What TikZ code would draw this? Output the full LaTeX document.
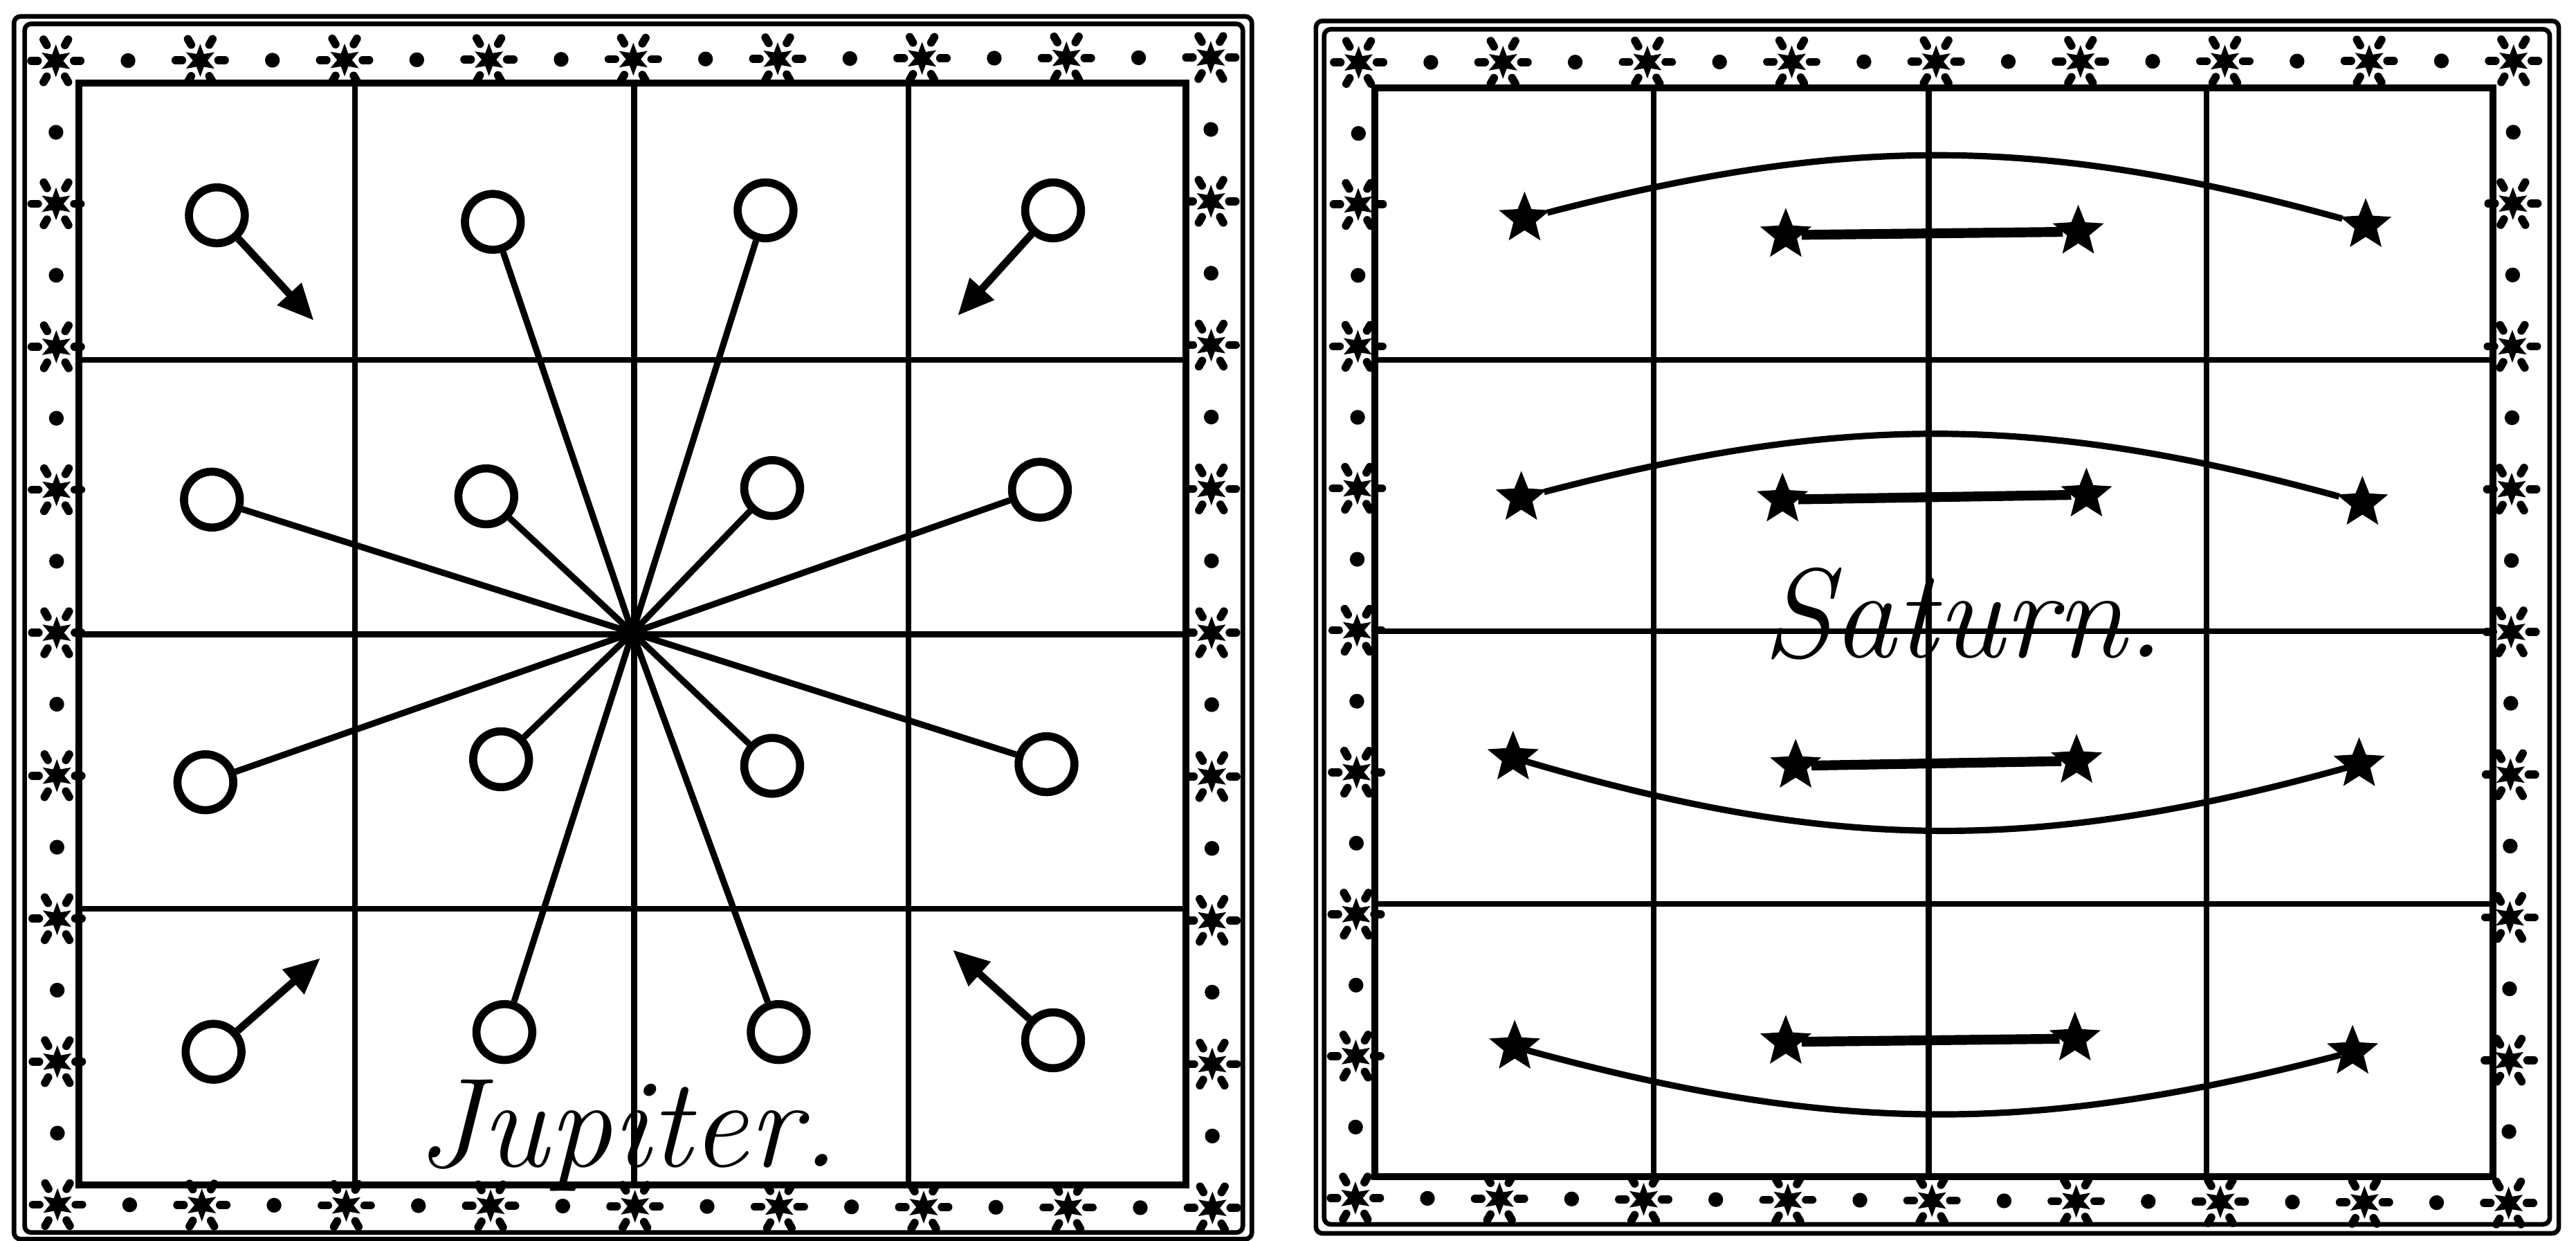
\documentclass[tikz,border=0pt]{standalone}
\usepackage{tikz}
\usetikzlibrary{arrows.meta, shapes.geometric, calc}
\tikzset{
  frameline/.style={line width=0.8pt, rounded corners=0.4mm},
  boardedge/.style={line width=1.2pt},
  gridline/.style={line width=1.0pt},
  planet/.style={circle, draw, line width=1.4pt, minimum size=3.4mm, inner sep=0pt},
  spoke/.style={line width=1.1pt},
  mover/.style={line width=1.3pt, -{Triangle[length=2.2mm, width=1.9mm]}},
  sstar/.style={star, star points=5, star point ratio=2.3, fill, draw,
                minimum size=2.9mm, inner sep=0pt},
  orbit/.style={line width=1.1pt},
  barline/.style={line width=1.7pt},
  handtext/.style={font=\fontsize{22}{26}\selectfont\itshape, inner sep=0pt, anchor=base},
  bstar/.pic={
    \fill (90:10) \foreach \k in {1,...,11}
      { -- ({90+30*\k}:{ifthenelse(mod(\k,2)==0,10,4.5)}) } -- cycle;
    \foreach \a in {0,60,...,300}
      \draw[line width=1.4pt, line cap=round] (\a:11) -- (\a:15);
  },
  bdot/.pic={ \fill (0,0) circle (4.5); }
}

\begin{document}
\begin{tikzpicture}[x=0.1mm, y=-0.1mm]
  \useasboundingbox (0,0) rectangle (1568,755);

  % ── Jupiter board ────────────────────────────────────────────────
  \draw[frameline] (8.5,10) rectangle (762,754);
  \draw[frameline] (15,14.5) rectangle (756.5,750);
  \draw[boardedge] (48,50.5) rectangle (722,721);
  \foreach \x in {216,386,553} \draw[gridline] (\x,50.5) -- (\x,721);
  \foreach \y in {219,386,553} \draw[gridline] (48,\y) -- (722,\y);

  % border of stars and dots
  \coordinate (JTL) at (34,37);
  \coordinate (JTR) at (737,35);
  \coordinate (JBR) at (738,735);
  \coordinate (JBL) at (35,733);
  \foreach \a/\b in {JTL/JTR, JTR/JBR, JBR/JBL, JBL/JTL} {
    \foreach \i [evaluate=\i as \f using \i/16] in {0,2,...,14}
      \pic at ($(\a)!\f!(\b)$) {bstar};
    \foreach \i [evaluate=\i as \f using \i/16] in {1,3,...,15}
      \pic at ($(\a)!\f!(\b)$) {bdot};
  }

  \coordinate (hub) at (385,385);
  \foreach \n/\x/\y in {c11/132/131, c12/300/135, c13/466/128, c14/641/128,
                        c21/129/304, c22/296/302, c23/470/297, c24/633/298,
                        c31/125/476, c32/305/462, c33/470/466, c34/637/465,
                        c41/130/640, c42/307/628, c43/474/628, c44/641/633}
    \node[planet] (\n) at (\x,\y) {};

  \foreach \n in {c12,c13,c21,c22,c23,c24,c31,c32,c33,c34,c42,c43}
    \draw[spoke] (hub) -- (\n);

  % corner moves
  \coordinate (t11) at (191,195);
  \coordinate (t14) at (583,192);
  \coordinate (t41) at (195,583);
  \coordinate (t44) at (580,578);
  \foreach \n in {11,14,41,44} \draw[mover] (c\n) -- (t\n);

  \node[handtext] (jup) at (382,710) {Jupiter.};

  % ── Saturn board ─────────────────────────────────────────────────
  \draw[frameline] (801,12.7) rectangle (1557.5,750.5);
  \draw[frameline] (806,17.8) rectangle (1552,745);
  \draw[boardedge] (837,53.5) rectangle (1517.5,716);
  \foreach \x in {1006.5,1174,1343} \draw[gridline] (\x,53.5) -- (\x,716);
  \foreach \y in {219,384,550} \draw[gridline] (837,\y) -- (1517.5,\y);

  \coordinate (STL) at (827,38);
  \coordinate (STR) at (1530,37);
  \coordinate (SBR) at (1527,732);
  \coordinate (SBL) at (825,729);
  \foreach \a/\b in {STL/STR, STR/SBR, SBR/SBL, SBL/STL} {
    \foreach \i [evaluate=\i as \f using \i/16] in {0,2,...,14}
      \pic at ($(\a)!\f!(\b)$) {bstar};
    \foreach \i [evaluate=\i as \f using \i/16] in {1,3,...,15}
      \pic at ($(\a)!\f!(\b)$) {bdot};
  }

  \foreach \n/\x/\y in {s1a/928/133, s1b/1087/143, s1c/1265/141, s1d/1440/137,
                        s2a/926/303, s2b/1085/304, s2c/1270/301, s2d/1438/306,
                        s3a/921/461, s3b/1093/466, s3c/1264/463, s3d/1436/465,
                        s4a/922/637, s4b/1087/634, s4c/1263/632, s4d/1432/640}
    \node[sstar] (\n) at (\x,\y) {};

  \foreach \r in {1,2,3,4} \draw[barline] (s\r b) -- (s\r c);
  \draw[orbit] (s1a) to[bend left=15] (s1d);
  \draw[orbit] (s2a) to[bend left=15] (s2d);
  \draw[orbit] (s3a) to[bend right=16] (s3d);
  \draw[orbit] (s4a) to[bend right=15] (s4d);

  \node[handtext] (sat) at (1195,400) {Saturn.};
\end{tikzpicture}
\end{document}
